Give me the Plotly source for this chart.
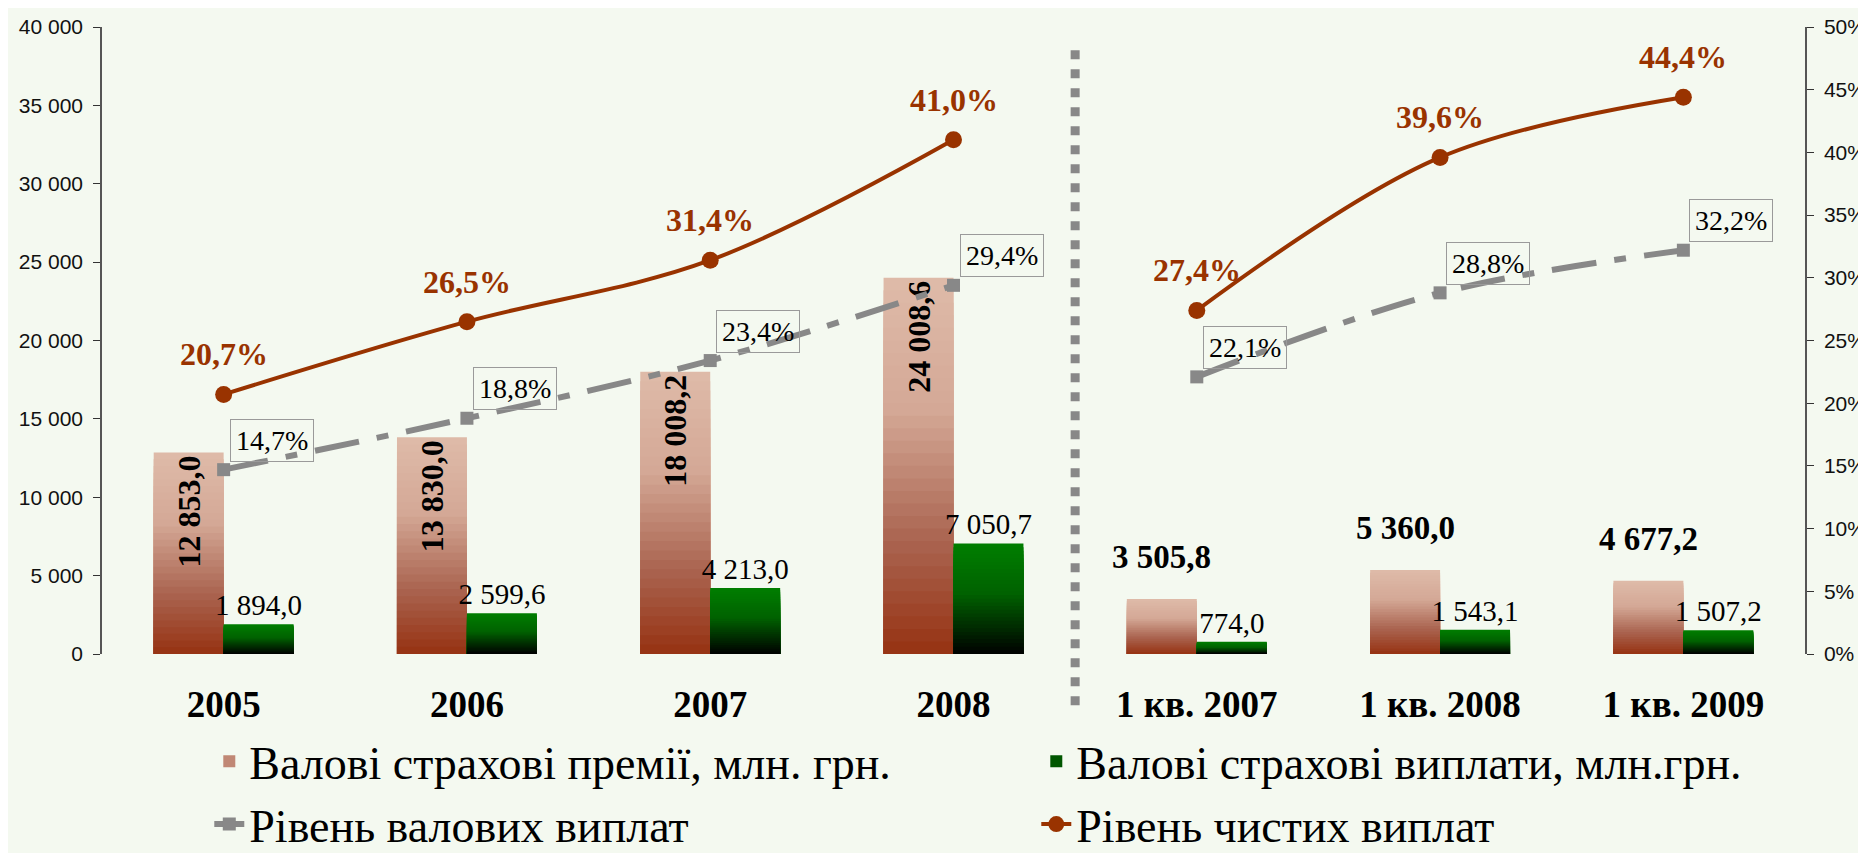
import plotly.graph_objects as go

# ---------------- data ----------------
categories = ["2005", "2006", "2007", "2008", "1 кв. 2007", "1 кв. 2008", "1 кв. 2009"]
gross_premiums = [12853.0, 13830.0, 18008.2, 24008.6, 3505.8, 5360.0, 4677.2]   # млн. грн.
gross_payments = [1894.0, 2599.6, 4213.0, 7050.7, 774.0, 1543.1, 1507.2]       # млн. грн.
gross_payment_level = [14.7, 18.8, 23.4, 29.4, 22.1, 28.8, 32.2]               # %
net_payment_level = [20.7, 26.5, 31.4, 41.0, 27.4, 39.6, 44.4]                 # %
n_annual = 4  # first four categories are years, the rest are 1st quarters
y_ticks = list(range(0, 40001, 5000))
pct_ticks = list(range(0, 51, 5))

name_prem = "Валові страхові премії, млн. грн."
name_pay = "Валові страхові виплати, млн.грн."
name_gross = "Рівень валових виплат"
name_net = "Рівень чистих виплат"

# ---------------- style ----------------
SERIF = "Liberation Serif, DejaVu Serif Condensed, DejaVu Serif, serif"
SANS = "Liberation Sans, Arial, sans-serif"
BG = "#F4F9F0"
RUST = "#993300"
GRAY = "#888888"
BAR_W = 0.2875
N_LAYERS = 30
prem_stops = [(0.0, (222, 187, 169)), (0.35, (212, 168, 150)), (0.7, (170, 100, 80)), (1.0, (150, 50, 18))]
pay_stops = [(0.0, (0, 126, 0)), (0.45, (0, 98, 0)), (1.0, (0, 0, 0))]


def lerp(stops, t):
    for (t0, c0), (t1, c1) in zip(stops[:-1], stops[1:]):
        if t <= t1:
            f = (t - t0) / (t1 - t0)
            return "rgb(%d,%d,%d)" % tuple(round(a + (b - a) * f) for a, b in zip(c0, c1))
    return "rgb(%d,%d,%d)" % stops[-1][1]


def fmt_num(v):
    return f"{v:,.1f}".replace(",", " ").replace(".", ",")


def fmt_pct(v):
    return f"{v:.1f}%".replace(".", ",")


fig = go.Figure()

# gradient bars: layers drawn in place (light at top, dark at bottom)
for values, stops, name, offset in [(gross_premiums, prem_stops, name_prem, -BAR_W),
                                    (gross_payments, pay_stops, name_pay, 0.0)]:
    for i in range(N_LAYERS):
        frac = (N_LAYERS - i) / N_LAYERS
        fig.add_trace(go.Bar(
            x=categories, y=[v * frac for v in values],
            width=BAR_W, offset=offset,
            marker=dict(color=lerp(stops, (i + 0.5) / N_LAYERS), line=dict(width=0)),
            name=name, legendgroup=name, showlegend=(i == N_LAYERS // 2),
            hoverinfo="skip",
        ))

# label carriers (transparent bars on top)
fig.add_trace(go.Bar(
    x=categories[:n_annual], y=gross_premiums[:n_annual], width=BAR_W, offset=-BAR_W,
    marker=dict(color="rgba(0,0,0,0)", line=dict(width=0)),
    text=[fmt_num(v) for v in gross_premiums[:n_annual]],
    textposition="inside", textangle=-90, insidetextanchor="end", constraintext="none",
    insidetextfont=dict(family=SERIF, size=32, color="black", weight="bold"),
    showlegend=False, hoverinfo="skip",
))
fig.add_trace(go.Bar(
    x=categories, y=gross_payments, width=BAR_W, offset=0,
    marker=dict(color="rgba(0,0,0,0)", line=dict(width=0)),
    text=[fmt_num(v) for v in gross_payments],
    textposition="outside", textangle=0, constraintext="none", cliponaxis=False,
    outsidetextfont=dict(family=SERIF, size=29, color="black"),
    showlegend=False, hoverinfo="skip",
))

# lines (two separate segments: years and quarters)
for seg, show in [(slice(0, n_annual), True), (slice(n_annual, None), False)]:
    fig.add_trace(go.Scatter(
        x=categories[seg], y=gross_payment_level[seg], yaxis="y2",
        mode="lines+markers", name=name_gross, legendgroup=name_gross, showlegend=show,
        line=dict(color=GRAY, width=6, dash="45px,18px,12px,18px", shape="spline", smoothing=1),
        marker=dict(symbol="square", size=13, color=GRAY),
        cliponaxis=False, hoverinfo="skip",
    ))
for seg, show in [(slice(0, n_annual), True), (slice(n_annual, None), False)]:
    fig.add_trace(go.Scatter(
        x=categories[seg], y=net_payment_level[seg], yaxis="y2",
        mode="lines+markers", name=name_net, legendgroup=name_net, showlegend=show,
        line=dict(color=RUST, width=4, shape="spline", smoothing=1),
        marker=dict(symbol="circle", size=17, color=RUST),
        cliponaxis=False, hoverinfo="skip",
    ))

annotations = []
# bold value labels above the quarterly premium bars
for i in range(n_annual, len(categories)):
    annotations.append(dict(
        x=i - BAR_W / 2, y=gross_premiums[i], xref="x", yref="y",
        text=fmt_num(gross_premiums[i]), showarrow=False, xanchor="center", yanchor="bottom", yshift=22,
        font=dict(family=SERIF, size=33, color="black", weight="bold"),
    ))
# net level labels
for i, v in enumerate(net_payment_level):
    annotations.append(dict(
        x=i, y=v, xref="x", yref="y2", text=fmt_pct(v), showarrow=False,
        xanchor="center", yanchor="bottom", yshift=20,
        font=dict(family=SERIF, size=32, color=RUST, weight="bold"),
    ))
# gross level labels (boxed)
for i, v in enumerate(gross_payment_level):
    annotations.append(dict(
        x=i, y=v, xref="x", yref="y2", text=fmt_pct(v), showarrow=False,
        xanchor="left", yanchor="bottom", xshift=6, yshift=8,
        bordercolor="#9a9a9a", borderwidth=1, borderpad=5, bgcolor="rgba(0,0,0,0)",
        font=dict(family=SERIF, size=28, color="black"),
    ))

sep_x = n_annual / len(categories)

fig.update_layout(
    width=1866, height=853,
    margin=dict(l=94, r=69, t=19, b=207, autoexpand=False),
    paper_bgcolor=BG, plot_bgcolor=BG,
    font=dict(family=SERIF, color="black"),
    barmode="overlay",
    separators=", ",
    showlegend=True,
    legend=dict(
        orientation="h", x=0.063, y=-0.113, xanchor="left", yanchor="top",
        entrywidth=782, traceorder="normal", bgcolor="rgba(0,0,0,0)",
        font=dict(family=SERIF, size=46, color="black"),
    ),
    xaxis=dict(
        type="category", categoryorder="array", categoryarray=categories,
        range=[-0.5, len(categories) - 0.5], showline=False, showgrid=False, zeroline=False,
        ticks="", ticklabelstandoff=25,
        tickfont=dict(family=SERIF, size=37, color="black", weight="bold"),
    ),
    yaxis=dict(
        range=[0, 40000], tickmode="array", tickvals=y_ticks, tickformat=",.0f",
        showline=True, linecolor="#555555", linewidth=1.5,
        ticks="outside", ticklen=7, tickcolor="#333333", tickwidth=1.2,
        showgrid=False, zeroline=False, ticklabelstandoff=6,
        tickfont=dict(family=SANS, size=21, color="#111111"),
    ),
    yaxis2=dict(
        overlaying="y", side="right", range=[0, 50], tickmode="array",
        tickvals=pct_ticks, ticktext=[f"{t}%" for t in pct_ticks],
        showline=True, linecolor="#555555", linewidth=1.5,
        ticks="outside", ticklen=7, tickcolor="#333333", tickwidth=1.2,
        showgrid=False, zeroline=False, ticklabelstandoff=6,
        tickfont=dict(family=SANS, size=21, color="#111111"),
    ),
    shapes=[dict(
        type="line", xref="paper", yref="paper", x0=sep_x, x1=sep_x, y0=0.963, y1=-0.089,
        line=dict(color=GRAY, width=9, dash="9px,10px"),
    )],
    annotations=annotations,
)

fig.write_html("out.html")
